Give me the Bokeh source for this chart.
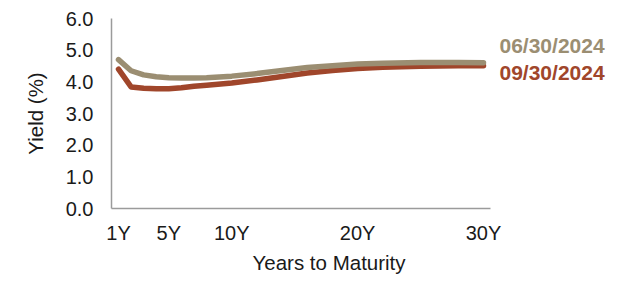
from bokeh.plotting import figure
from bokeh.models import Range1d, FixedTicker, Title
from bokeh.core.properties import value
from bokeh.embed import file_html
from bokeh.resources import INLINE

years = [1, 2, 3, 4, 5, 6, 7, 8, 10, 12, 14, 16, 18, 20, 22, 25, 28, 30]
yield_0630 = [4.70, 4.35, 4.22, 4.16, 4.13, 4.12, 4.12, 4.13, 4.18, 4.26, 4.36,
              4.45, 4.51, 4.56, 4.59, 4.61, 4.61, 4.60]
yield_0930 = [4.40, 3.84, 3.80, 3.78, 3.78, 3.81, 3.86, 3.89, 3.96, 4.06, 4.17,
              4.28, 4.36, 4.42, 4.46, 4.49, 4.51, 4.51]
series_names = ["06/30/2024", "09/30/2024"]
x_ticks = [1, 5, 10, 20, 30]
x_tick_labels = ["1Y", "5Y", "10Y", "20Y", "30Y"]
y_ticks = [0, 1, 2, 3, 4, 5, 6]
x_axis_title = "Years to Maturity"
y_axis_title = "Yield (%)"

TAN = "#9B8E72"
RED = "#A0462B"
FONT = "Liberation Sans"
TXT = "#1a1a1a"

X0, X1 = 0.444, 30.556
px_per_year = 379 / (X1 - X0)
FRAME_W = 501
p = figure(width=620, height=281, output_backend="svg", toolbar_location=None,
           frame_width=FRAME_W, frame_height=190,
           x_range=Range1d(X0, X0 + FRAME_W / px_per_year), y_range=Range1d(0, 6))
p.min_border_left = 111
p.min_border_right = 8
p.min_border_top = 18
p.min_border_bottom = 73
p.outline_line_color = None
p.grid.visible = False
p.background_fill_color = "white"
p.border_fill_color = "white"

p.line(years, yield_0930, line_color=RED, line_width=5.5, line_cap="round", line_join="round")
p.line(years, yield_0630, line_color=TAN, line_width=5.5, line_cap="round", line_join="round")

p.text(x=[years[-1]], y=[yield_0630[-1]], text=[series_names[0]], x_offset=16, y_offset=-17,
       text_color=TAN, text_font=value(FONT), text_font_style="bold",
       text_font_size="21px", text_baseline="middle", text_align="left")
p.text(x=[years[-1]], y=[yield_0930[-1]], text=[series_names[1]], x_offset=16, y_offset=7,
       text_color=RED, text_font=value(FONT), text_font_style="bold",
       text_font_size="21px", text_baseline="middle", text_align="left")

for ax in (p.xaxis[0], p.yaxis[0]):
    ax.axis_line_color = "#9B9B9B"
    ax.axis_line_width = 1.5
    ax.major_tick_line_color = None
    ax.minor_tick_line_color = None
    ax.major_tick_out = 0
    ax.major_tick_in = 0
    ax.major_label_text_font = FONT
    ax.major_label_text_font_size = "20px"
    ax.major_label_text_color = TXT

p.xaxis.bounds = (X0, X1)
p.xaxis.ticker = FixedTicker(ticks=x_ticks)
p.xaxis.major_label_overrides = {t: l for t, l in zip(x_ticks, x_tick_labels)}
p.xaxis.major_label_standoff = 13

p.yaxis.ticker = FixedTicker(ticks=y_ticks)
p.yaxis.major_label_overrides = {t: f"{t:.1f}" for t in y_ticks}
p.yaxis.major_label_standoff = 18

p.add_layout(Title(text=x_axis_title, align="left", offset=141, standoff=4,
                   text_font=FONT, text_font_size="20.5px", text_font_style="normal",
                   text_color=TXT), "below")
p.add_layout(Title(text=y_axis_title, align="center", offset=-20, standoff=31,
                   text_font=FONT, text_font_size="20.5px", text_font_style="normal",
                   text_color=TXT), "left")

open("out.html", "w").write(file_html(p, INLINE))
